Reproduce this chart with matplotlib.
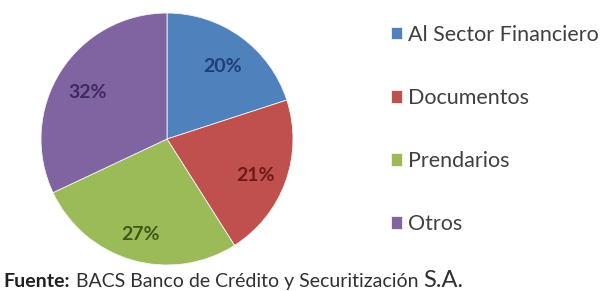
import matplotlib.pyplot as plt

# Composición de la cartera
categorias = ["Al Sector Financiero", "Documentos", "Prendarios", "Otros"]
porcentajes = [20, 21, 27, 32]
colores = ["#4F81BD", "#C0504D", "#9BBB59", "#8064A2"]
colores_texto = ["#1F3F73", "#6E1A18", "#3E5A16", "#3D2A5E"]
fuente = "BACS Banco de Crédito y Securitización"

W, H = 606, 291
fig = plt.figure(figsize=(W / 100, H / 100), dpi=100)

# pie centrado en (167, 139) px con radio 126 px
cx, cy, r = 167, 139, 126
ax = fig.add_axes([(cx - r) / W, (H - cy - r) / H, 2 * r / W, 2 * r / H])
wedges, texts, autotexts = ax.pie(
    porcentajes,
    colors=colores,
    startangle=90,
    counterclock=False,
    autopct="%d%%",
    pctdistance=0.75,
    textprops={"fontsize": 14, "fontweight": "bold", "family": "Lato"},
    wedgeprops={"linewidth": 0.6, "edgecolor": "#f4f4f4"},
)
for t, c in zip(autotexts, colores_texto):
    t.set_color(c)
    x, y = t.get_position()
    t.set_position((x, y - 0.035))
ax.set_xlim(-1, 1)
ax.set_ylim(-1, 1)
ax.set_aspect("equal")
ax.axis("off")

fig.legend(
    wedges,
    categorias,
    loc="upper left",
    bbox_to_anchor=(391 / W, 1 - 25 / H),
    frameon=False,
    prop={"family": "Lato", "size": 15.5},
    labelcolor="#404040",
    labelspacing=2.0,
    handlelength=0.5,
    handleheight=0.5,
    handletextpad=0.3,
    borderpad=0,
    borderaxespad=0,
)

# linea de fuente al pie
renderer = fig.canvas.get_renderer()
x0 = 3 / W
y0 = 1 - 287 / H
t1 = fig.text(x0, y0, "Fuente:", fontsize=14, fontweight="bold", family="Lato",
              color="#202020", va="baseline")
bb = t1.get_window_extent(renderer)
t2 = fig.text(bb.x1 / W + 6 / W, y0, fuente, fontsize=14, family="Lato",
              color="#303030", va="baseline")
bb = t2.get_window_extent(renderer)
fig.text(bb.x1 / W + 5 / W, y0, "S.A.", fontsize=17, family="Lato",
         color="#303030", va="baseline")

fig.savefig("out.png", dpi=100)
